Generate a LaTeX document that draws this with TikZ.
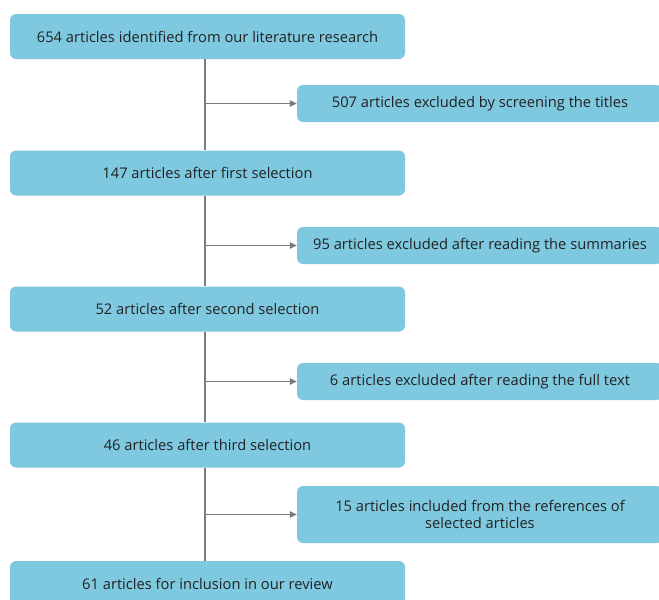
\documentclass[tikz,border=0pt]{standalone}
\usepackage{fontspec}
\setmainfont{Open Sans}
\usetikzlibrary{arrows.meta}
\definecolor{boxblue}{HTML}{7FC9E0}
\definecolor{txt}{HTML}{222222}
\definecolor{linegrey}{HTML}{7A7A7A}
\tikzset{
  mainbox/.style={fill=boxblue, rounded corners=6pt, minimum width=395pt, minimum height=45pt, inner sep=0pt, text=txt, font=\fontsize{14.7}{17}\selectfont, align=center},
  sidebox/.style={fill=boxblue, rounded corners=6pt, minimum width=366pt, minimum height=37pt, inner sep=0pt, text=txt, font=\fontsize{14.7}{17}\selectfont, align=center},
  conn/.style={draw=linegrey, line width=1.1pt},
  arr/.style={conn, -{Triangle[length=7pt,width=6.5pt]}}
}
\begin{document}
\begin{tikzpicture}[x=1pt,y=-1pt]
\useasboundingbox (0,0) rectangle (659,600);
\clip (0,0) rectangle (659,600);
\node[mainbox] (b1) at (207.5,36.5) {654 articles identified from our literature research};
\node[sidebox] (r1) at (480,103.5) {507 articles excluded by screening the titles};
\node[mainbox] (b2) at (207.5,173) {147 articles after first selection};
\node[sidebox] (r2) at (480,245.5) {95 articles excluded after reading the summaries};
\node[mainbox] (b3) at (207.5,309) {52 articles after second selection};
\node[sidebox] (r3) at (480,381.5) {6 articles excluded after reading the full text};
\node[mainbox] (b4) at (207.5,445) {46 articles after third selection};
\node[sidebox, minimum height=57pt] (r4) at (480,514.5) {15 articles included from the references of\\selected articles};
\node[mainbox] (b5) at (207.5,583.5) {61 articles for inclusion in our review};
\coordinate (spine) at (205,0);
\draw[conn] (b1.south -| spine) -- (b2.north -| spine);
\draw[conn] (b2.south -| spine) -- (b3.north -| spine);
\draw[conn] (b3.south -| spine) -- (b4.north -| spine);
\draw[conn] (b4.south -| spine) -- (b5.north -| spine);
\draw[arr] (r1.west -| spine) -- (r1.west);
\draw[arr] (r2.west -| spine) -- (r2.west);
\draw[arr] (r3.west -| spine) -- (r3.west);
\draw[arr] (r4.west -| spine) -- (r4.west);
\end{tikzpicture}
\end{document}
